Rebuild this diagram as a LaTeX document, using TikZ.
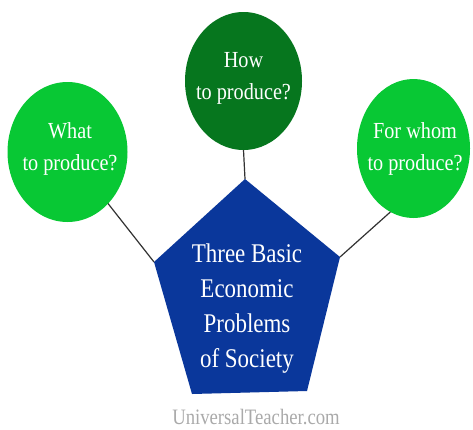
\documentclass[tikz,border=0pt]{standalone}
\usepackage{fontspec}
\usetikzlibrary{shapes.geometric}
\newfontfamily\bubblefont[FakeStretch=0.88]{Liberation Serif}
\newfontfamily\titlefont[FakeStretch=0.85]{Liberation Serif}
\definecolor{lightgreen}{RGB}{8,200,52}
\definecolor{darkgreen}{RGB}{6,118,30}
\definecolor{pentblue}{RGB}{10,55,155}
\definecolor{linkgrey}{RGB}{50,50,50}
\definecolor{markgrey}{RGB}{170,170,170}
\tikzset{
  bubble/.style={ellipse, inner sep=0pt, outer sep=0pt},
  bubbletext/.style={text=white, align=center, inner sep=0pt,
    font=\bubblefont\fontsize{23}{32}\selectfont},
  link/.style={draw=linkgrey, line width=1.2pt},
}
\begin{document}
\begin{tikzpicture}[x=1pt,y=-1pt]
  \useasboundingbox (0,0) rectangle (473,429);
  \fill[white] (0,0) rectangle (473,429);

  % the three questions
  \node[bubble, fill=darkgreen, minimum width=117pt, minimum height=138pt]
    (how) at (243.5,81) {};
  \node[bubbletext] (howtext) at (243.5,78) {How\\to produce?};
  \node[bubble, fill=lightgreen, minimum width=120pt, minimum height=140pt]
    (what) at (67.5,152) {};
  \node[bubbletext] (whattext) at (70,149) {What\\to produce?};
  \node[bubble, fill=lightgreen, minimum width=113pt, minimum height=139pt]
    (whom) at (413.5,148.5) {};
  \node[bubbletext] (whomtext) at (415,149) {For whom\\to produce?};

  % pentagon corners
  \coordinate (ptop) at (245,179);
  \coordinate (pleft) at (154,262);
  \coordinate (pbl) at (192,394);
  \coordinate (pbr) at (307,391);
  \coordinate (pright) at (340,257);
  \fill[pentblue] (ptop) -- (pleft) -- (pbl) -- (pbr) -- (pright) -- cycle;
  \node[text=white, align=center, inner sep=0pt,
        font=\titlefont\fontsize{27}{35}\selectfont]
    (problems) at (247,309) {Three Basic\\Economic\\Problems\\of Society};

  % connectors
  \draw[link] (how.south) -- (ptop);
  \draw[link] (what) -- (pleft);
  \draw[link] (whom.250) -- (pright);

  % site mark
  \node[text=markgrey, inner sep=0pt, anchor=base,
        font=\titlefont\fontsize{22}{26}\selectfont]
    (site) at (256,424) {UniversalTeacher.com};
\end{tikzpicture}
\end{document}
